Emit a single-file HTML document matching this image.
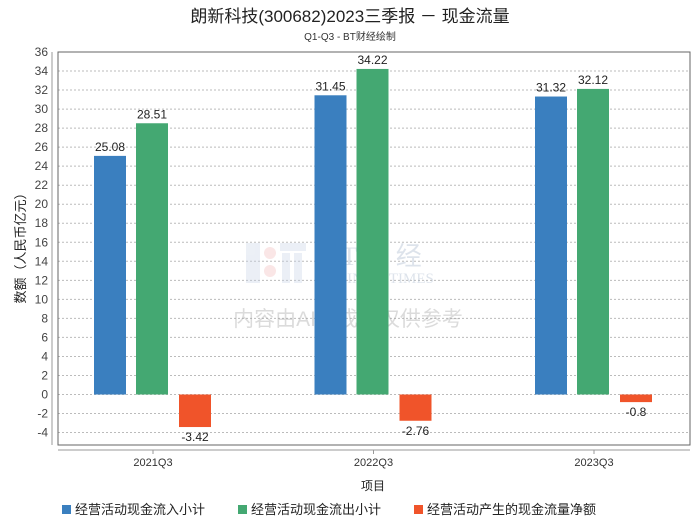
<!DOCTYPE html>
<html><head><meta charset="utf-8">
<style>
body{margin:0;background:#fff;}
svg{display:block;font-family:"Liberation Sans","Noto Sans CJK SC",sans-serif;}
</style></head>
<body>
<svg id="chart" width="700" height="524" viewBox="0 0 700 524">
<text x="350" y="22" text-anchor="middle" font-size="17" fill="#222">朗新科技(300682)2023三季报 － 现金流量</text>
<text x="350" y="40" text-anchor="middle" font-size="10" fill="#333">Q1-Q3 - BT财经绘制</text>
<g id="grid"></g>
<rect x="58" y="52" width="632" height="393" fill="none" stroke="#666" stroke-width="1"/>
<line x1="58" y1="450" x2="690" y2="450" stroke="#999"/>
<g opacity="0.35">
<rect x="246" y="243" width="14" height="40" fill="#c8d4e6"/>
<circle cx="270" cy="253" r="6" fill="#f2b8b8"/><circle cx="270" cy="271" r="6" fill="#f2b8b8"/>
<rect x="280" y="243" width="26" height="8" fill="#c8d4e6"/><rect x="282" y="253" width="8" height="30" fill="#c8d4e6"/><rect x="294" y="253" width="8" height="30" fill="#c8d4e6"/>
<text x="318" y="265" font-size="26" font-family="Liberation Serif,serif" fill="#9fb0c8">B T 财 经</text>
<text x="318" y="283" font-size="15" font-family="Liberation Serif,serif" fill="#9fb0c8">BUSINESSTIMES</text>
<text x="348" y="326" text-anchor="middle" font-size="21" fill="#999">内容由AI生成，仅供参考</text>
</g>
<g id="bars"></g>
<g id="yaxis"></g>
<g id="xaxis"></g>
<text transform="translate(25,245) rotate(-90)" text-anchor="middle" font-size="13" fill="#222">数额（人民币亿元）</text>
<text x="373" y="490" text-anchor="middle" font-size="12" fill="#222">项目</text>
<g id="legend"></g>
</svg>
<script>
const categories=["2021Q3","2022Q3","2023Q3"];
const inflow=[25.08,31.45,31.32];
const outflow=[28.51,34.22,32.12];
const netflow=[-3.42,-2.76,-0.8];
const yTicks=[-4,-2,0,2,4,6,8,10,12,14,16,18,20,22,24,26,28,30,32,34,36];
const seriesNames=["经营活动现金流入小计","经营活动现金流出小计","经营活动产生的现金流量净额"];
const colors=["#3a7fbf","#44a872","#f0542a"];
const NS="http://www.w3.org/2000/svg";
function y(v){return 394.5-v*9.514;}
function xc(i){return 153+i*220.5;}
function mk(tag,attrs,parent,text){const e=document.createElementNS(NS,tag);for(const k in attrs)e.setAttribute(k,attrs[k]);if(text!==undefined)e.textContent=text;document.getElementById(parent).appendChild(e);return e;}
yTicks.forEach(t=>{
 if(t!==36){const g=mk('line',{x1:58,x2:690,y1:y(t),y2:y(t),stroke:'#bbb','stroke-dasharray':'2,2'},'grid');
 
 }
 const l=mk('text',{x:48,y:y(t)+4,'text-anchor':'end','font-size':12,fill:'#444'},'yaxis',t);
 
 
});
mk('line',{x1:52,x2:52,y1:52,y2:445,stroke:'#999'},'yaxis');
const series=[inflow,outflow,netflow];
const offs=[-43,-1,42];
categories.forEach((c,i)=>{
 series.forEach((s,j)=>{
  const v=s[i];const cx=xc(i)+offs[j];
  const top=Math.min(y(v),y(0)),h=Math.abs(y(v)-y(0));
  const r=mk('rect',{x:cx-16,y:top,width:32,height:h,fill:colors[j]},'bars');
  
  
  const ty=v>=0?y(v)-5:y(v)+14;
  const t=mk('text',{x:cx,y:ty,'text-anchor':'middle','font-size':12,fill:'#222'},'bars',v);
  
  
 });
 mk('line',{x1:xc(i),x2:xc(i),y1:450,y2:454,stroke:'#999'},'xaxis');
 const xl=mk('text',{x:xc(i),y:466,'text-anchor':'middle','font-size':11,fill:'#333'},'xaxis',c);
 
 
});
const lx=[62,238,414];
seriesNames.forEach((n,j)=>{
 const sw=mk('rect',{x:lx[j],y:505,width:9,height:9,fill:colors[j]},'legend');
 
 
 const t=mk('text',{x:lx[j]+13,y:514,'font-size':13,fill:'#222'},'legend',n);
 
 
});
</script>
</body></html>
